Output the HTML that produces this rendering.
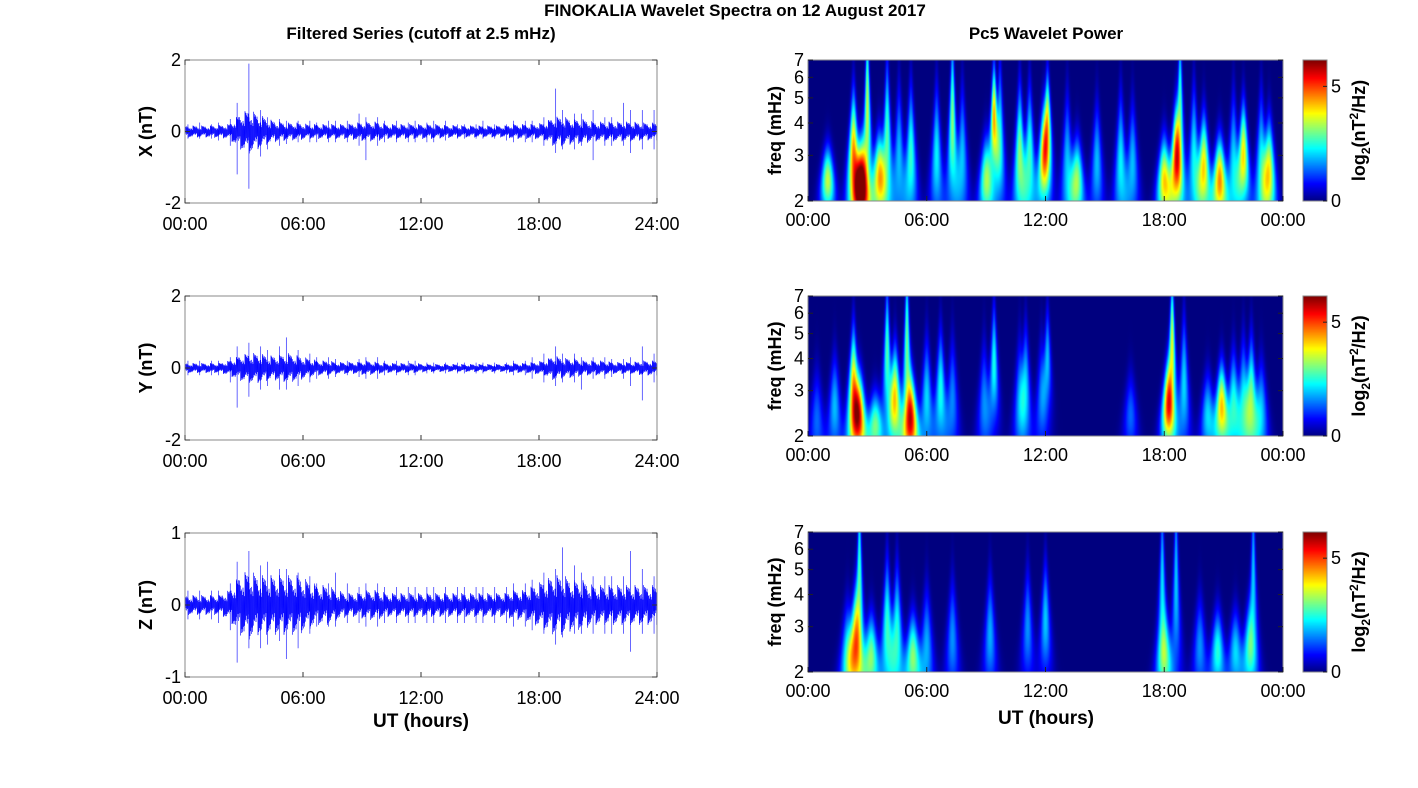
<!DOCTYPE html>
<html><head><meta charset="utf-8"><style>
html,body{margin:0;padding:0;background:#fff;}
#wrap{position:relative;width:1418px;height:788px;overflow:hidden;font-family:"Liberation Sans",sans-serif;}
canvas{position:absolute;}
svg{position:absolute;left:0;top:0;}
</style></head><body>
<div id="wrap">
<canvas id="c1" width="475" height="141" style="left:808px;top:60px"></canvas>
<canvas id="c2" width="475" height="140" style="left:808px;top:296px"></canvas>
<canvas id="c3" width="475" height="140" style="left:808px;top:532px"></canvas>
<canvas id="cb1" width="24" height="141" style="left:1303px;top:60px"></canvas>
<canvas id="cb2" width="24" height="140" style="left:1303px;top:296px"></canvas>
<canvas id="cb3" width="24" height="140" style="left:1303px;top:532px"></canvas>
<svg id="svg" width="1418" height="788" xmlns="http://www.w3.org/2000/svg">
<text x="735" y="16" text-anchor="middle" font-size="17" font-weight="bold">FINOKALIA Wavelet Spectra on 12 August 2017</text>
<text x="421" y="39" text-anchor="middle" font-size="17" font-weight="bold">Filtered Series (cutoff at 2.5 mHz)</text>
<text x="1046" y="39" text-anchor="middle" font-size="17" font-weight="bold">Pc5 Wavelet Power</text>
</svg>
</div>
<script>
// ---- time series data (48 half-hour bins) ----
const xCore=[.12,.12,.12,.13,.15,.35,.45,.35,.25,.2,.18,.18,.15,.15,.15,.15,.15,.18,.2,.2,.15,.15,.15,.15,.15,.15,.13,.13,.12,.12,.12,.12,.12,.15,.15,.15,.18,.3,.3,.25,.25,.2,.2,.2,.2,.2,.18,.18];
const xUp=[.2,.25,.2,.25,.35,.8,1.9,.6,.4,.35,.3,.3,.3,.25,.3,.3,.3,.5,.4,.4,.3,.3,.25,.3,.25,.3,.3,.2,.2,.2,.3,.2,.2,.3,.3,.3,.4,1.2,.6,.5,.5,.6,.4,.4,.8,.6,.6,.6];
const xDown=[-.2,-.2,-.2,-.25,-.4,-1.2,-1.6,-.7,-.5,-.4,-.35,-.3,-.3,-.3,-.3,-.3,-.3,-.4,-.8,-.4,-.3,-.3,-.3,-.3,-.3,-.3,-.25,-.2,-.2,-.2,-.2,-.2,-.25,-.3,-.3,-.3,-.4,-.6,-.5,-.5,-.4,-.8,-.4,-.4,-.4,-.6,-.5,-.5];
const yCore=[.1,.1,.1,.1,.15,.25,.3,.3,.25,.25,.3,.25,.2,.15,.15,.12,.12,.12,.15,.12,.1,.1,.1,.1,.08,.08,.08,.08,.08,.08,.08,.08,.08,.1,.1,.12,.15,.25,.2,.2,.15,.15,.15,.12,.12,.12,.15,.15];
const yUp=[.2,.2,.2,.2,.3,.6,.7,.6,.5,.6,.85,.5,.4,.3,.3,.25,.2,.25,.3,.3,.2,.2,.2,.2,.15,.15,.15,.15,.15,.15,.15,.15,.15,.2,.2,.3,.4,.6,.4,.4,.3,.3,.3,.25,.25,.3,.6,.4];
const yDown=[-.2,-.2,-.2,-.2,-.4,-1.1,-.8,-.6,-.5,-.6,-.6,-.5,-.4,-.3,-.3,-.25,-.2,-.25,-.3,-.3,-.2,-.2,-.2,-.2,-.15,-.15,-.15,-.15,-.15,-.15,-.15,-.15,-.15,-.2,-.2,-.3,-.4,-.5,-.4,-.4,-.6,-.3,-.3,-.25,-.3,-.5,-.9,-.4];
const zCore=[.1,.1,.1,.1,.15,.3,.35,.3,.3,.3,.3,.3,.25,.2,.2,.15,.12,.12,.15,.15,.12,.12,.12,.12,.12,.12,.12,.12,.12,.12,.12,.12,.12,.15,.15,.2,.25,.3,.3,.25,.25,.2,.2,.2,.2,.2,.2,.2];
const zUp=[.2,.2,.2,.2,.3,.6,.75,.55,.6,.5,.5,.45,.4,.3,.3,.45,.3,.25,.3,.3,.25,.25,.25,.25,.25,.25,.25,.25,.25,.25,.25,.25,.25,.3,.3,.35,.45,.5,.8,.55,.45,.4,.4,.4,.4,.75,.5,.4];
const zDown=[-.2,-.2,-.2,-.25,-.35,-.8,-.6,-.6,-.55,-.5,-.75,-.6,-.4,-.3,-.3,-.3,-.25,-.25,-.3,-.3,-.25,-.25,-.25,-.25,-.25,-.25,-.25,-.25,-.25,-.25,-.25,-.25,-.25,-.3,-.3,-.35,-.4,-.55,-.45,-.4,-.4,-.4,-.4,-.4,-.4,-.65,-.4,-.4];
const timeTicks=["00:00","06:00","12:00","18:00","24:00"];
const specTicks=["00:00","06:00","12:00","18:00","00:00"];
const freqTicks=[2,3,4,5,6,7];
// ---- wavelet blobs: time (h), center freq (mHz), power, freq spread ----
const b1T=[1.0,2.3,2.7,3.0,3.6,4.0,4.6,5.2,6.5,7.3,7.8,9.0,9.4,9.7,10.7,11.2,11.9,12.1,13.1,13.6,14.6,15.8,16.4,18.0,18.6,18.8,19.5,20.0,20.8,21.5,22.0,22.9,23.3];
const b1F=[2.4,3.0,2.3,4.5,2.5,3.5,3.0,3.0,3.0,4.0,3.0,2.4,4.2,3.5,3.0,3.0,2.9,3.9,2.8,2.4,2.8,2.8,2.8,2.4,2.9,4.5,3.0,2.7,2.4,2.8,3.0,2.8,2.6];
const b1P=[4,5.2,6.8,4,4.5,3.2,2.2,3,2.6,3.6,2.2,3.6,5,2.6,3.6,3,4,4.6,2.2,3.6,2.2,2.6,2.2,4.6,5.2,3.2,2.6,4.6,5.2,2.4,4.6,2.6,4.2];
const b1S=[.2,.35,.25,.5,.25,.45,.4,.4,.4,.5,.4,.25,.3,.45,.4,.4,.3,.3,.4,.25,.35,.4,.35,.25,.3,.5,.4,.3,.25,.4,.3,.4,.3];
const b2T=[0.45,1.35,2.3,2.6,3.4,4.0,4.4,5.0,5.2,6.0,6.7,7.3,8.9,9.4,10.7,11.0,11.8,12.1,16.3,18.2,18.4,19.0,20.2,20.9,21.5,22.0,22.4,22.9];
const b2F=[2.3,2.6,3.0,2.4,2.2,4.2,2.8,4.5,2.3,2.8,3.0,2.8,2.7,3.8,2.8,3.2,2.8,4.0,2.4,2.6,4.5,3.2,2.4,2.6,2.7,2.8,2.8,2.5];
const b2P=[1.6,2.2,5,4.8,3.4,3.2,4.6,3.4,5.6,2.4,2.8,1.8,1.8,2.8,1.8,2.2,1.6,2.2,1.6,5.2,4.2,2.4,2.4,4.8,2.8,2.4,3.4,2.2];
const b2S=[.3,.3,.35,.25,.2,.4,.3,.5,.25,.35,.35,.35,.35,.35,.35,.35,.35,.3,.25,.25,.4,.4,.25,.25,.3,.35,.35,.3];
const b3T=[2.0,2.4,2.6,3.2,4.0,4.5,5.3,6.0,7.3,9.2,11.1,12.0,17.9,18.0,18.6,19.8,20.7,21.6,22.3,22.5];
const b3F=[2.3,2.6,4.5,2.3,3.0,2.8,2.3,2.5,2.7,2.8,3.0,3.2,4.5,2.3,4.5,2.5,2.4,2.4,2.5,4.5];
const b3P=[2.6,4.0,3.2,3.5,3.0,2.9,3.6,2.1,1.9,2.1,1.9,2.3,2.4,3.0,2.3,1.9,2.9,2.4,2.4,2.3];
const b3S=[.3,.3,.6,.25,.4,.4,.25,.35,.35,.35,.35,.35,.5,.25,.6,.3,.25,.25,.25,.6];

const NS='http://www.w3.org/2000/svg';
const svg=document.getElementById('svg');
function mk(tag,attrs,parent){const e=document.createElementNS(NS,tag);for(const k in attrs)e.setAttribute(k,attrs[k]);(parent||svg).appendChild(e);return e;}

function jet(v){v=Math.max(0,Math.min(1,v));
 const r=Math.max(0,Math.min(1,Math.min(4*v-1.5,-4*v+4.5)));
 const g=Math.max(0,Math.min(1,Math.min(4*v-0.5,-4*v+3.5)));
 const b=Math.max(0,Math.min(1,Math.min(4*v+0.5,-4*v+2.5)));
 return [r*255|0,g*255|0,b*255|0];}

// ---------- time series panels ----------
const L=185,R=657,PW=R-L;
function tsPanel(top,h,ymax,core,up,down,label,name){
  const g=mk('g',{});
  
  
  const xs=t=>L+t/24*PW, ys=v=>top+h/2-v/ymax*(h/2);
  mk('rect',{x:L,y:top,width:PW,height:h,fill:'#fff'},g);
  const pat=[1,.55,.85,.35,.95,.6,.75,.45,.9,.3,.7,1.1,.5];
  let d='';
  for(let k=0;k<=PW*3;k++){
    const px=k/3;
    const t=px/PW*24, bi=Math.min(47,Math.max(0,t*2-0.5));
    const i0=Math.floor(bi),i1=Math.min(47,i0+1),f=bi-i0;
    const c=(core[i0]*(1-f)+core[i1]*f)*1.25;
    const a=c*pat[k%pat.length]*(k%2?-1:1);
    d+=(k?'L':'M')+(L+px).toFixed(2)+' '+ys(a).toFixed(1);
  }
  const line=mk('path',{d:d,stroke:'#0000ff','stroke-width':0.5,fill:'none'},g);
  
  
  for(let i=0;i<48;i++){
    const t=(i+0.3+0.4*((i*7)%5)/4)/2;
    const s=mk('line',{x1:xs(t),x2:xs(t),y1:ys(up[i]),y2:ys(down[i]),stroke:'#0000ff','stroke-width':0.6},g);
    
    
  }
  const fr=mk('rect',{x:L,y:top,width:PW,height:h,fill:'none',stroke:'#888','stroke-width':1},g);
  
  
  [ymax,0,-ymax].forEach(v=>{
    const y=ys(v);
    mk('line',{x1:L,x2:L+5,y1:y,y2:y,stroke:'#333'},g);
    mk('line',{x1:R,x2:R-5,y1:y,y2:y,stroke:'#333'},g);
    const tx=mk('text',{x:L-4,y:y+6,'text-anchor':'end','font-size':18},g);
    tx.textContent=String(v);
    
    
  });
  timeTicks.forEach((lab,i)=>{
    const x=xs(i*6);
    mk('line',{x1:x,x2:x,y1:top+h,y2:top+h-5,stroke:'#333'},g);
    mk('line',{x1:x,x2:x,y1:top,y2:top+5,stroke:'#333'},g);
    const tx=mk('text',{x:x,y:top+h+27,'text-anchor':'middle','font-size':18},g);
    tx.textContent=lab;
    
    
  });
  const yl=mk('text',{x:0,y:0,transform:`translate(152,${top+h/2}) rotate(-90)`,'text-anchor':'middle','font-size':18,'font-weight':'bold'},g);
  yl.textContent=label;
  
  
}
tsPanel(60,143,2,xCore,xUp,xDown,'X (nT)','x');
tsPanel(296,144,2,yCore,yUp,yDown,'Y (nT)','y');
tsPanel(533,144,1,zCore,zUp,zDown,'Z (nT)','z');
const ut1=mk('text',{x:421,y:727,'text-anchor':'middle','font-size':19,'font-weight':'bold'});
ut1.textContent='UT (hours)';



// ---------- spectrogram panels ----------
const SL=808,SR=1283,SW=SR-SL,VMAX=6.15;
const lf2=Math.log(2),lf7=Math.log(7);
function specPanel(cid,cbid,top,h,T,F,P,S,name){
  const cv=document.getElementById(cid),ctx=cv.getContext('2d');
  const img=ctx.createImageData(SW,h);
  for(let py=0;py<h;py++){
    const lf=lf2+(h-py-0.5)/h*(lf7-lf2), f=Math.exp(lf);
    const sw=0.3*Math.pow(2/f,1.3);
    for(let px=0;px<SW;px++){
      const t=(px+0.5)/SW*24;
      let p=0;
      for(let k=0;k<T.length;k++){
        const dt=(t-T[k])/sw; if(Math.abs(dt)>4)continue;
        const df=(lf-Math.log(F[k]))/S[k];
        p+=P[k]*Math.exp(-0.5*dt*dt-0.5*df*df);
      }
      const c=jet(p/VMAX*0.875);
      const o=(py*SW+px)*4; img.data[o]=c[0];img.data[o+1]=c[1];img.data[o+2]=c[2];img.data[o+3]=255;
    }
  }
  ctx.putImageData(img,0,0);
  const cb=document.getElementById(cbid).getContext('2d');
  for(let py=0;py<h;py++){const c=jet(1-py/h);cb.fillStyle=`rgb(${c[0]},${c[1]},${c[2]})`;cb.fillRect(0,py,24,1);}
  const g=mk('g',{});
  
  
  const fr=mk('rect',{x:SL,y:top,width:SW,height:h,fill:'none',stroke:'#888'},g);
  
  
  const fy=f=>top+h-(Math.log(f)-lf2)/(lf7-lf2)*h;
  freqTicks.forEach(f=>{
    const y=fy(f);
    mk('line',{x1:SL,x2:SL+5,y1:y,y2:y,stroke:'#222'},g);
    mk('line',{x1:SR,x2:SR-5,y1:y,y2:y,stroke:'#222'},g);
    const tx=mk('text',{x:SL-4,y:y+6,'text-anchor':'end','font-size':18},g);
    tx.textContent=String(f);
    
    
  });
  specTicks.forEach((lab,i)=>{
    const x=SL+i*6/24*SW;
    mk('line',{x1:x,x2:x,y1:top+h,y2:top+h-5,stroke:'#222'},g);
    const tx=mk('text',{x:x,y:top+h+25,'text-anchor':'middle','font-size':18},g);
    tx.textContent=lab;
    
    
  });
  const yl=mk('text',{x:0,y:0,transform:`translate(781,${top+h/2}) rotate(-90)`,'text-anchor':'middle','font-size':18,'font-weight':'bold'},g);
  yl.textContent='freq (mHz)';
  
  
  mk('rect',{x:1303,y:top,width:24,height:h,fill:'none',stroke:'#888'},g);
  [0,5].forEach(v=>{
    const y=top+h-v/VMAX*h;
    mk('line',{x1:1327,x2:1323,y1:y,y2:y,stroke:'#222'},g);
    const tx=mk('text',{x:1331,y:y+6,'font-size':18},g);
    tx.textContent=String(v);
    
    
  });
  const cl=mk('text',{x:0,y:0,transform:`translate(1365,${top+h/2}) rotate(-90)`,'text-anchor':'middle','font-size':18,'font-weight':'bold'},g);
  cl.innerHTML='log<tspan font-size="12" dy="5">2</tspan><tspan dy="-5">(nT</tspan><tspan font-size="12" dy="-7">2</tspan><tspan dy="7">/Hz)</tspan>';
  
  
}
specPanel('c1','cb1',60,141,b1T,b1F,b1P,b1S,'x');
specPanel('c2','cb2',296,140,b2T,b2F,b2P,b2S,'y');
specPanel('c3','cb3',532,140,b3T,b3F,b3P,b3S,'z');
const ut2=mk('text',{x:1046,y:724,'text-anchor':'middle','font-size':19,'font-weight':'bold'});
ut2.textContent='UT (hours)';


</script>
</body></html>
